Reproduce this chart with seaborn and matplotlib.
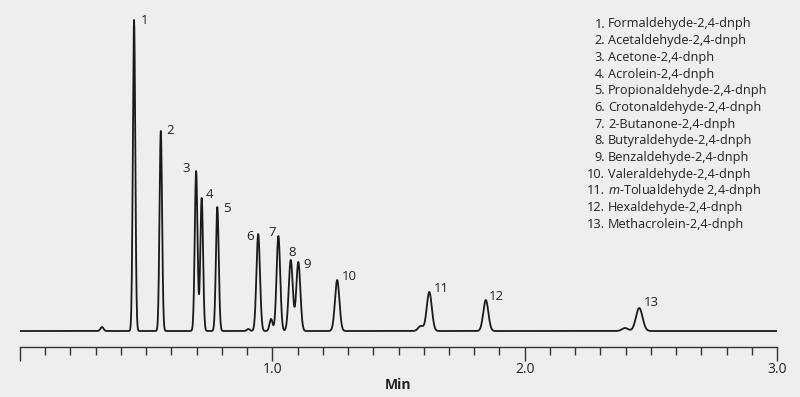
import matplotlib.pyplot as plt
import matplotlib.ticker as mticker
import numpy as np
import seaborn as sns

# peak table (time in min, height in detector units)
compounds = ['Formaldehyde-2,4-dnph', 'Acetaldehyde-2,4-dnph', 'Acetone-2,4-dnph',
             'Acrolein-2,4-dnph', 'Propionaldehyde-2,4-dnph', 'Crotonaldehyde-2,4-dnph',
             '2-Butanone-2,4-dnph', 'Butyraldehyde-2,4-dnph', 'Benzaldehyde-2,4-dnph',
             'Valeraldehyde-2,4-dnph', r'$\it{m}$-Tolualdehyde 2,4-dnph',
             'Hexaldehyde-2,4-dnph', 'Methacrolein-2,4-dnph']
retention_times = [0.452, 0.558, 0.698, 0.720, 0.782, 0.944, 1.024,
                   1.073, 1.103, 1.257, 1.622, 1.846, 2.454]
peak_heights = [311, 200, 160, 133, 124, 97, 95, 71, 69, 51, 39, 31, 23]
peak_widths = [0.0048, 0.0050, 0.0054, 0.0054, 0.0056, 0.0070, 0.0072,
               0.0080, 0.0080, 0.0088, 0.0100, 0.0100, 0.0130]

# small unlabelled bumps / shoulders
minor_times = [0.325, 0.905, 0.995, 1.588, 2.398]
minor_heights = [4, 2, 12, 5, 3]
minor_widths = [0.006, 0.006, 0.006, 0.010, 0.012]

# label placement (pixel offsets from the apex, alignment)
label_offsets = [(7, 0, 'left'), (6, 0, 'left'), (-6, 3, 'right'), (4, 4, 'left'),
                 (6, -1, 'left'), (-4, -2, 'right'), (-2, 3, 'right'), (1, 8, 'center'),
                 (5, -2, 'left'), (5, 3, 'left'), (5, 3, 'left'), (3, 3, 'left'),
                 (5, 5, 'left')]

bg = '#eeeeee'
sns.set_style('white')
plt.rcParams['font.family'] = ['Open Sans', 'DejaVu Sans']
plt.rcParams['mathtext.fontset'] = 'custom'
plt.rcParams['mathtext.it'] = 'Open Sans:italic'
plt.rcParams['mathtext.rm'] = 'Open Sans'

t = np.linspace(0, 3, 3001)
signal = np.zeros_like(t)
for rt, h, w in zip(retention_times + minor_times, peak_heights + minor_heights,
                    peak_widths + minor_widths):
    signal += h * np.exp(-0.5 * ((t - rt) / w) ** 2)

fig = plt.figure(figsize=(8, 3.97), dpi=100, facecolor=bg)
ax = fig.add_axes([20 / 800, 50 / 397, 757 / 800, 347 / 397])
ax.set_facecolor(bg)

sns.lineplot(x=t, y=signal, color='#1a1a1a', linewidth=1.3, ax=ax)

for i, (rt, h) in enumerate(zip(retention_times, peak_heights)):
    dx, dy, ha = label_offsets[i]
    ax.annotate(str(i + 1), xy=(rt, h), xytext=(dx, dy), textcoords='offset pixels',
                ha=ha, va='center', fontsize=9.5, color='#222222')

ax.set_xlim(0, 3)
ax.set_ylim(-16, 331)
for s in ['left', 'top', 'right']:
    ax.spines[s].set_visible(False)
ax.spines['bottom'].set_color('#333333')
ax.spines['bottom'].set_linewidth(1.0)

ax.set_xticks([0, 1, 2, 3])
ax.set_xticklabels(['', '1.0', '2.0', '3.0'])
ax.xaxis.set_minor_locator(mticker.MultipleLocator(0.1))
ax.tick_params(axis='x', which='both', bottom=True, direction='out')
ax.tick_params(axis='x', which='major', length=10, width=1, color='#333333',
               pad=0.5, labelsize=10, labelcolor='#222222')
ax.tick_params(axis='x', which='minor', length=6, width=1, color='#333333')
ax.set_yticks([])
ax.set_ylabel('')
ax.set_xlabel('Min', fontweight='bold', fontsize=10, labelpad=1, color='#222222')

for i, name in enumerate(compounds):
    y = 1 - (24 + i * 16.67) / 397
    fig.text(605 / 800, y, f'{i + 1}.', ha='right', va='center', fontsize=9.2, color='#222222')
    fig.text(608 / 800, y, name, ha='left', va='center', fontsize=9.2, color='#222222')

fig.savefig('out.png', dpi=100, facecolor=bg)
